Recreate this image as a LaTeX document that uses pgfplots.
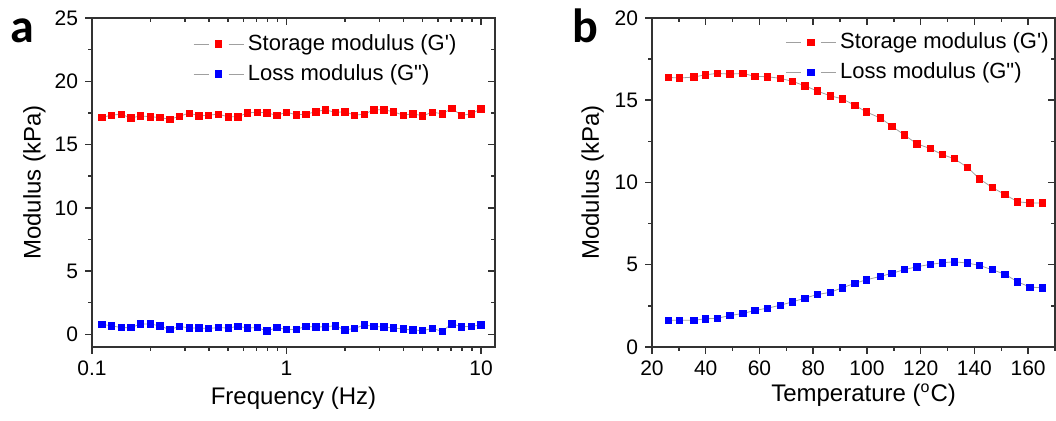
\documentclass[border=0pt]{standalone}
\usepackage{pgfplots}
\usepackage{pgfplotstable}
\pgfplotsset{compat=1.18}
\usepackage{fontspec}
\setmainfont{Liberation Sans}
\newfontfamily\lib{Liberation Sans}
\newfontfamily\carl{Carlito}

\definecolor{lgray}{RGB}{160,160,160}
\definecolor{axgray}{RGB}{50,50,50}

% frequency sweep (panel a)
\pgfplotstableread{
f       gp     gpp
0.1122  17.14  0.79
0.1259  17.32  0.68
0.1413  17.40  0.53
0.1585  17.09  0.53
0.1778  17.27  0.82
0.1995  17.19  0.82
0.2239  17.14  0.66
0.2512  16.98  0.37
0.2818  17.24  0.63
0.3162  17.48  0.50
0.3548  17.27  0.50
0.3981  17.32  0.47
0.4467  17.40  0.53
0.5012  17.19  0.50
0.5623  17.19  0.63
0.6310  17.51  0.50
0.7079  17.54  0.53
0.7943  17.51  0.26
0.8913  17.30  0.53
1.0000  17.56  0.39
1.1220  17.35  0.39
1.2590  17.40  0.63
1.4130  17.59  0.58
1.5850  17.75  0.60
1.7780  17.54  0.68
1.9950  17.59  0.34
2.2390  17.32  0.47
2.5120  17.40  0.74
2.8180  17.75  0.63
3.1620  17.75  0.58
3.5480  17.59  0.50
3.9810  17.32  0.42
4.4670  17.43  0.34
5.0120  17.27  0.29
5.6230  17.56  0.47
6.3100  17.43  0.24
7.0790  17.85  0.84
7.9430  17.30  0.60
8.9130  17.43  0.63
10.000  17.83  0.74
}\dataA

% temperature sweep (panel b)
\pgfplotstableread{
T      gp     gpp
26.1   16.39  1.63
30.3   16.35  1.63
35.6   16.41  1.63
39.9   16.55  1.71
44.3   16.63  1.75
49.0   16.59  1.91
53.9   16.63  2.04
58.3   16.45  2.22
63.0   16.43  2.36
67.8   16.33  2.54
72.2   16.15  2.74
76.9   15.88  2.97
81.5   15.56  3.19
86.3   15.27  3.32
90.8   15.09  3.60
95.5   14.69  3.87
99.9   14.28  4.09
105.0  13.92  4.29
109.3  13.42  4.48
113.9  12.89  4.70
118.6  12.35  4.88
123.6  12.06  5.02
128.0  11.70  5.12
132.5  11.45  5.18
137.5  10.91  5.10
141.9  10.22  4.96
146.6  9.70   4.70
151.3  9.27   4.43
156.1  8.83   3.96
160.7  8.75   3.64
165.2  8.75   3.60
}\dataB

\pgfplotsset{
  mybase/.style={
    scale only axis,
    width=201.5pt, height=164.5pt,
    axis line style={line width=0.75pt, axgray},
    every tick/.style={line width=0.75pt, axgray},
    major tick length=3.5pt,
    minor tick length=2pt,
    tick label style={font=\lib\fontsize{10.5}{12}\selectfont},
    label style={font=\lib\fontsize{12}{14}\selectfont},
    /pgf/number format/assume math mode=true,
  },
  lowerticks/.style={xtick pos=left, ytick pos=left, tick align=outside},
  upperticks/.style={xtick pos=right, ytick pos=right, tick align=inside,
    xticklabels={}, yticklabels={}},
  myser/.style={lgray, line width=0.4pt, mark=square*, mark size=1.6pt,
    mark options={solid, draw=#1, fill=#1}},
  myleg/.style={
    legend style={draw=none, fill=none, font=\lib\fontsize{11}{13}\selectfont,
      legend cell align=left, row sep=1.5pt},
    legend image code/.code={
      \draw[##1, draw=lgray] (0pt,0pt) -- (7.5pt,0pt) (17.5pt,0pt) -- (25pt,0pt);
      \draw[##1] plot coordinates {(12.5pt,0pt)};
    },
  },
  axisA/.style={mybase, xmin=0.1, xmax=11.8, ymin=-1, ymax=25,
    xtick={0.1,1,10}, xticklabels={0.1,1,10},
    minor xtick={0.2,0.3,0.4,0.5,0.6,0.7,0.8,0.9,2,3,4,5,6,7,8,9},
    ytick={0,5,...,25}, minor ytick={2.5,7.5,12.5,17.5,22.5}},
  axisB/.style={mybase, xmin=20, xmax=170, ymin=0, ymax=20,
    xtick={20,40,...,160}, minor xtick={30,50,...,170},
    ytick={0,5,...,20}, minor ytick={2.5,7.5,12.5,17.5}},
}

\begin{document}
\begin{tikzpicture}
% panel a
\begin{semilogxaxis}[axisA, lowerticks, myleg, at={(0pt,0pt)}, anchor=south west,
    xlabel={Frequency (Hz)}, ylabel={Modulus (kPa)},
    xlabel style={at={(axis description cs:0.5,-0.155)}, anchor=center},
    ylabel style={at={(axis description cs:-0.143,0.5)}, anchor=center},
    legend style={at={(0.93,0.975)}, anchor=north east}]
  \addplot[myser=red] table[x=f, y=gp] {\dataA};
  \addplot[myser=blue] table[x=f, y=gpp] {\dataA};
  \legend{Storage modulus (G'), Loss modulus (G")}
\end{semilogxaxis}
\begin{semilogxaxis}[axisA, upperticks, at={(0pt,0pt)}, anchor=south west]
  \addplot[draw=none] coordinates {(1,10)};
\end{semilogxaxis}

% panel b
\begin{axis}[axisB, lowerticks, myleg, at={(280pt,0pt)}, anchor=south west,
    xlabel={Temperature (\textsuperscript{o}C)}, ylabel={Modulus (kPa)},
    xlabel style={at={(axis description cs:0.525,-0.146)}, anchor=center},
    ylabel style={at={(axis description cs:-0.147,0.5)}, anchor=center},
    legend style={at={(1.01,0.98)}, anchor=north east}]
  \addplot[myser=red] table[x=T, y=gp] {\dataB};
  \addplot[myser=blue] table[x=T, y=gpp] {\dataB};
  \legend{Storage modulus (G'), Loss modulus (G")}
\end{axis}
\begin{axis}[axisB, upperticks, at={(280pt,0pt)}, anchor=south west]
  \addplot[draw=none] coordinates {(100,10)};
\end{axis}

\node[anchor=base west, inner sep=0pt, font=\carl\bfseries\fontsize{24}{24}\selectfont] at (-41pt,152pt) {a};
\node[anchor=base west, inner sep=0pt, font=\carl\bfseries\fontsize{24}{24}\selectfont] at (240pt,152pt) {b};

\pgfresetboundingbox
\useasboundingbox (-46pt,-37pt) rectangle (482pt,173.5pt);
\end{tikzpicture}
\end{document}
